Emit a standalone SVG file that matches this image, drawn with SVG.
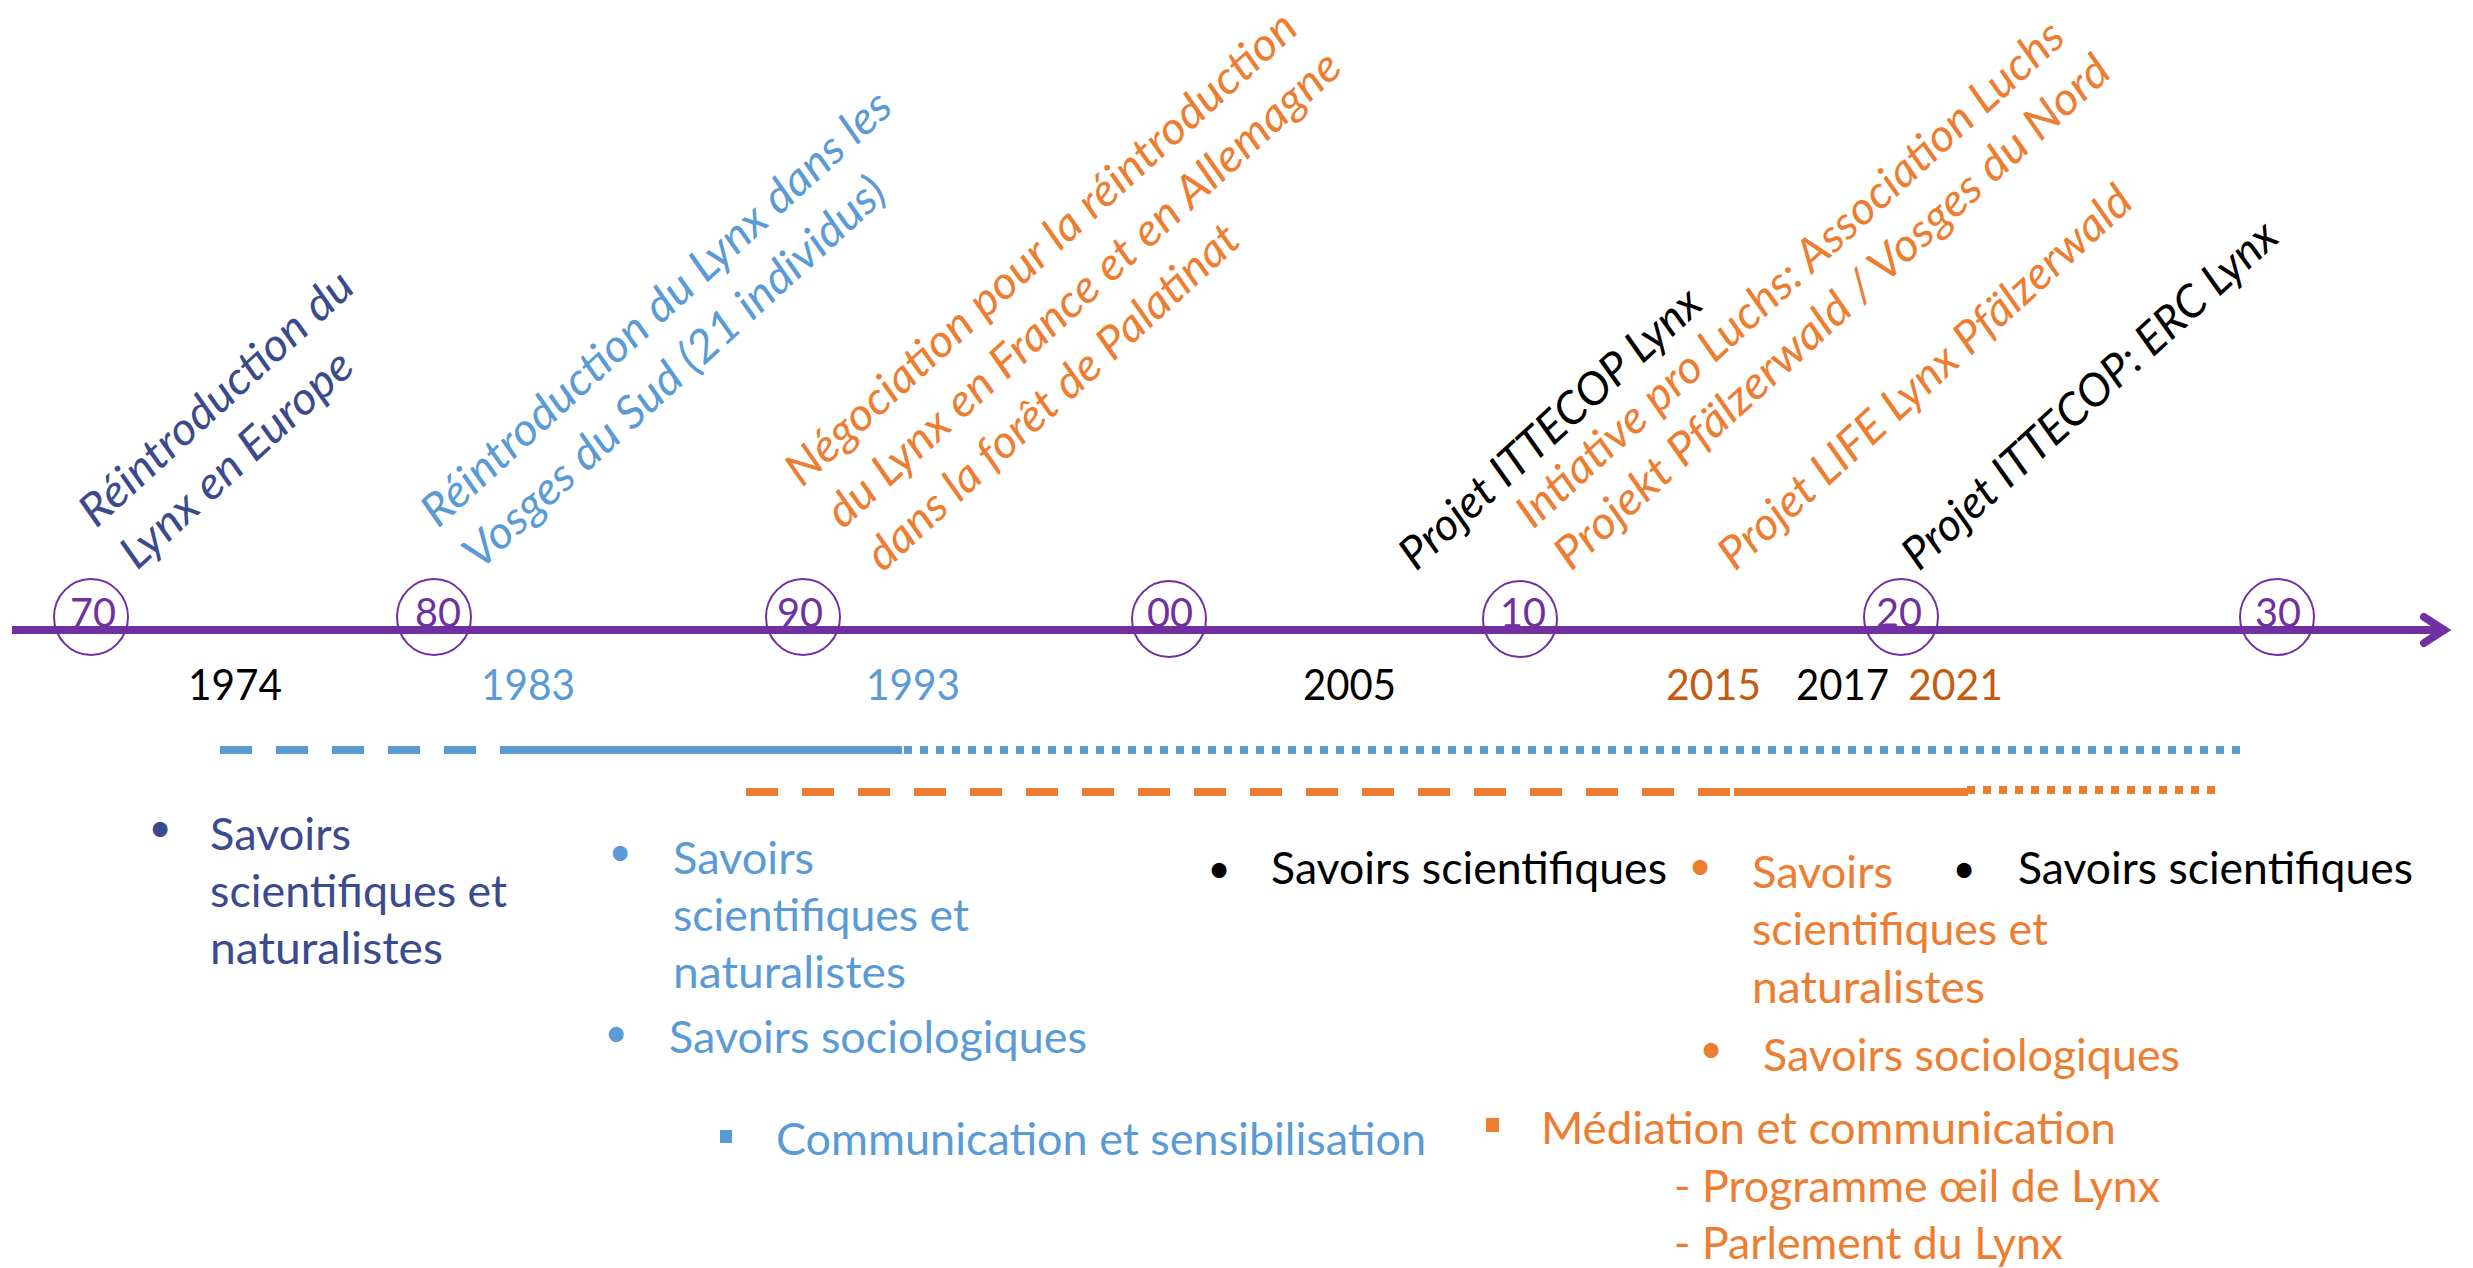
<svg xmlns="http://www.w3.org/2000/svg" width="2473" height="1268" viewBox="0 0 2473 1268">
<style>
text { font-family: Lato, "Liberation Sans", "DejaVu Sans", sans-serif; }
.rot { font-size: 45px; font-style: italic; }
.body { font-size: 45px; }
.year { font-size: 42px; }
.dec { font-size: 40px; fill: #7030A0; text-anchor: middle; }
.bul { font-size: 40px; text-anchor: middle; }
.navy { fill: #3A4A8C; }
.blue { fill: #5B9BD5; }
.orange { fill: #ED7D31; }
.dorange { fill: #C55A11; }
.black { fill: #000000; }
.ring { fill: none; stroke: #7030A0; stroke-width: 2; }
.axis { stroke: #7030A0; stroke-width: 8; fill: none; }
.bar { stroke-width: 8; fill: none; }
.bblue { stroke: #5B9BD5; }
.borange { stroke: #ED7D31; }
.dash { stroke-dasharray: 32 24; }
.dot { stroke-dasharray: 8 8; }
</style>
<rect x="0" y="0" width="2473" height="1268" fill="#FFFFFF"/>

<g id="connectors">
  <line class="axis" x1="12" y1="630" x2="2446" y2="630"/>
  <polyline class="axis" points="2424,617 2444,630 2424,643" stroke-linecap="round" stroke-linejoin="miter"/>
  <line class="bar bblue dash" x1="220" y1="750" x2="476" y2="750"/>
  <line class="bar bblue" x1="500" y1="750" x2="902" y2="750"/>
  <line class="bar bblue dot" x1="904" y1="750" x2="2242" y2="750"/>
  <line class="bar borange dash" x1="746" y1="792" x2="1730" y2="792"/>
  <line class="bar borange" x1="1734" y1="792" x2="1968" y2="792"/>
  <line class="bar borange dot" x1="1967" y1="790" x2="2215" y2="790"/>
</g>

<g id="decade-70"><ellipse class="ring" cx="91" cy="617" rx="37" ry="38"/><text class="dec" x="93" y="627" textLength="46" lengthAdjust="spacingAndGlyphs">70</text></g>
<g id="decade-80"><ellipse class="ring" cx="434" cy="617" rx="37" ry="38"/><text class="dec" x="438" y="627" textLength="46" lengthAdjust="spacingAndGlyphs">80</text></g>
<g id="decade-90"><ellipse class="ring" cx="803" cy="617" rx="37" ry="38"/><text class="dec" x="800" y="627" textLength="46" lengthAdjust="spacingAndGlyphs">90</text></g>
<g id="decade-00"><ellipse class="ring" cx="1169" cy="619" rx="37" ry="38"/><text class="dec" x="1170" y="627" textLength="46" lengthAdjust="spacingAndGlyphs">00</text></g>
<g id="decade-10"><ellipse class="ring" cx="1520" cy="619" rx="37" ry="38"/><text class="dec" x="1523" y="627" textLength="46" lengthAdjust="spacingAndGlyphs">10</text></g>
<g id="decade-20"><ellipse class="ring" cx="1901" cy="617" rx="37" ry="38"/><text class="dec" x="1899" y="627" textLength="46" lengthAdjust="spacingAndGlyphs">20</text></g>
<g id="decade-30"><ellipse class="ring" cx="2277" cy="617" rx="37" ry="38"/><text class="dec" x="2278" y="627" textLength="46" lengthAdjust="spacingAndGlyphs">30</text></g>

<g id="years">
  <text class="year black" x="188" y="700" textLength="94" lengthAdjust="spacingAndGlyphs">1974</text>
  <text class="year blue" x="481" y="700" textLength="94" lengthAdjust="spacingAndGlyphs">1983</text>
  <text class="year blue" x="866" y="700" textLength="94" lengthAdjust="spacingAndGlyphs">1993</text>
  <text class="year black" x="1303" y="700" textLength="93" lengthAdjust="spacingAndGlyphs">2005</text>
  <text class="year dorange" x="1666" y="700" textLength="95" lengthAdjust="spacingAndGlyphs">2015</text>
  <text class="year black" x="1796" y="700" textLength="93" lengthAdjust="spacingAndGlyphs">2017</text>
  <text class="year dorange" x="1908" y="700" textLength="95" lengthAdjust="spacingAndGlyphs">2021</text>
</g>

<g id="label-1974">
  <text class="rot navy" transform="translate(96,529) rotate(-42.5)" textLength="354" lengthAdjust="spacingAndGlyphs">Réintroduction du</text>
  <text class="rot navy" transform="translate(137,571) rotate(-42.5)" textLength="298" lengthAdjust="spacingAndGlyphs">Lynx en Europe</text>
</g>
<g id="label-1983">
  <text class="rot blue" transform="translate(438,529) rotate(-42.5)" textLength="620" lengthAdjust="spacingAndGlyphs">Réintroduction du Lynx dans les</text>
  <text class="rot blue" transform="translate(480,571) rotate(-42.5)" textLength="555" lengthAdjust="spacingAndGlyphs">Vosges du Sud (21 individus)</text>
</g>
<g id="label-1993">
  <text class="rot orange" transform="translate(802,488) rotate(-42.5)" textLength="676" lengthAdjust="spacingAndGlyphs">Négociation pour la réintroduction</text>
  <text class="rot orange" transform="translate(843,530) rotate(-42.5)" textLength="680" lengthAdjust="spacingAndGlyphs">du Lynx en France et en Allemagne</text>
  <text class="rot orange" transform="translate(883,573) rotate(-42.5)" textLength="488" lengthAdjust="spacingAndGlyphs">dans la forêt de Palatinat</text>
</g>
<g id="label-2005">
  <text class="rot black" transform="translate(1416,572) rotate(-42.5)" textLength="392" lengthAdjust="spacingAndGlyphs">Projet ITTECOP Lynx</text>
</g>
<g id="label-2015">
  <text class="rot orange" transform="translate(1533,530) rotate(-42.5)" textLength="725" lengthAdjust="spacingAndGlyphs">Intiative pro Luchs: Association Luchs</text>
  <text class="rot orange" transform="translate(1571,572) rotate(-42.5)" textLength="736" lengthAdjust="spacingAndGlyphs">Projekt Pfälzerwald / Vosges du Nord</text>
</g>
<g id="label-2021">
  <text class="rot orange" transform="translate(1735,572) rotate(-42.5)" textLength="543" lengthAdjust="spacingAndGlyphs">Projet LIFE Lynx Pfälzerwald</text>
</g>
<g id="label-2017">
  <text class="rot black" transform="translate(1919,572) rotate(-42.5)" textLength="491" lengthAdjust="spacingAndGlyphs">Projet ITTECOP: ERC Lynx</text>
</g>

<g id="knowledge-1974">
  <text class="bul navy" x="160" y="842">•</text>
  <text class="body navy" x="210" y="850" textLength="141" lengthAdjust="spacingAndGlyphs">Savoirs</text>
  <text class="body navy" x="210" y="907" textLength="297" lengthAdjust="spacingAndGlyphs">scientifiques et</text>
  <text class="body navy" x="210" y="964" textLength="233" lengthAdjust="spacingAndGlyphs">naturalistes</text>
</g>
<g id="knowledge-1983">
  <text class="bul blue" x="620" y="866">•</text>
  <text class="body blue" x="673" y="874" textLength="141" lengthAdjust="spacingAndGlyphs">Savoirs</text>
  <text class="body blue" x="673" y="931" textLength="296" lengthAdjust="spacingAndGlyphs">scientifiques et</text>
  <text class="body blue" x="673" y="988" textLength="233" lengthAdjust="spacingAndGlyphs">naturalistes</text>
  <text class="bul blue" x="616" y="1047">•</text>
  <text class="body blue" x="669" y="1053" textLength="418" lengthAdjust="spacingAndGlyphs">Savoirs sociologiques</text>
</g>
<g id="communication-1993">
  <rect x="720" y="1130" width="12" height="13" fill="#5B9BD5"/>
  <text class="body blue" x="776" y="1155" textLength="650" lengthAdjust="spacingAndGlyphs">Communication et sensibilisation</text>
</g>
<g id="knowledge-2005">
  <text class="bul black" x="1219" y="883">•</text>
  <text class="body black" x="1271" y="884" textLength="396" lengthAdjust="spacingAndGlyphs">Savoirs scientifiques</text>
</g>
<g id="knowledge-2015">
  <text class="bul orange" x="1700" y="880">•</text>
  <text class="body orange" x="1752" y="888" textLength="141" lengthAdjust="spacingAndGlyphs">Savoirs</text>
  <text class="body orange" x="1752" y="945" textLength="296" lengthAdjust="spacingAndGlyphs">scientifiques et</text>
  <text class="body orange" x="1752" y="1003" textLength="233" lengthAdjust="spacingAndGlyphs">naturalistes</text>
  <text class="bul orange" x="1711" y="1063">•</text>
  <text class="body orange" x="1763" y="1071" textLength="417" lengthAdjust="spacingAndGlyphs">Savoirs sociologiques</text>
</g>
<g id="knowledge-2017">
  <text class="bul black" x="1964" y="883">•</text>
  <text class="body black" x="2018" y="884" textLength="395" lengthAdjust="spacingAndGlyphs">Savoirs scientifiques</text>
</g>
<g id="mediation-2015">
  <rect x="1486" y="1118" width="13" height="14" fill="#ED7D31"/>
  <text class="body orange" x="1541" y="1144" textLength="575" lengthAdjust="spacingAndGlyphs">Médiation et communication</text>
  <text class="body orange" x="1674" y="1202" textLength="486" lengthAdjust="spacingAndGlyphs">- Programme œil de Lynx</text>
  <text class="body orange" x="1674" y="1259" textLength="389" lengthAdjust="spacingAndGlyphs">- Parlement du Lynx</text>
</g>
</svg>
